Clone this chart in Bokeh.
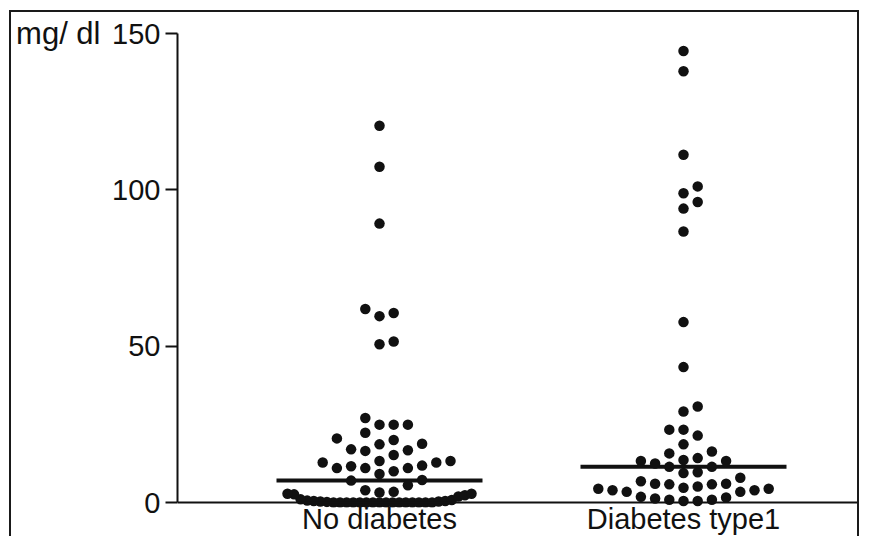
import numpy as np
from bokeh.plotting import figure
from bokeh.models import Range1d, FixedTicker, Span, LinearAxis, ColumnDataSource
from bokeh.embed import file_html
from bokeh.resources import INLINE

# ---------------- data ----------------
categories = ["No diabetes", "Diabetes type1"]
no_diabetes = [120.5, 107.4, 89.2, 61.9, 60.6, 59.6, 51.5, 50.6,
               27.0, 24.9, 24.9, 24.9, 22.3, 20.5, 20.0, 18.8, 18.6, 17.0,
               16.7, 16.5, 15.2, 13.3, 13.3, 12.8, 12.8, 11.8, 11.6, 11.0,
               11.0, 11.0, 10.0, 9.1, 7.2, 7.0,
               5.5, 3.9, 3.4, 3.2, 2.8, 2.8, 2.6, 2.3, 1.9, 1.0, 0.8, 0.6,
               0.5, 0.5, 0.3, 0.3, 0.2,
               0, 0, 0, 0, 0, 0, 0, 0, 0, 0, 0, 0, 0, 0, 0, 0]
diabetes_type1 = [144.4, 137.9, 111.2, 101.1, 98.9, 96.1, 94.0, 86.7, 57.7, 43.3,
                  30.7, 29.1, 23.3, 23.3, 21.4, 18.6, 16.3, 15.7, 14.2, 13.6,
                  13.3, 13.3, 12.5, 11.4, 11.4, 9.7, 9.4,
                  7.9, 6.8, 6.0, 6.0, 5.8, 5.8, 5.1, 4.7, 4.4, 4.4, 3.9, 3.9,
                  3.4, 3.4, 1.8, 1.6, 1.3, 0.9, 0.9, 0.5, 0.5]
y_ticks = [0, 50, 100, 150]
y_unit_label = "mg/ dl"

# ---------------- layout ----------------
W, H = 850, 526
MB_L, MB_R, MB_T, MB_B = 166, 0, 21, 31
X0, X1 = 0.33553, 2.58553
Y0, Y1 = -1.599, 150
px_per_x = (W - MB_L - MB_R) / (X1 - X0)

FONT = "Liberation Sans"
FS = "29px"
INK = "#111111"


def swarm(values, step, d, kmax, dense_half, dense_eps=3.0, dense_min=15, xtol=0.95):
    """Column-grid beeswarm (offsets in px), ascending placement."""
    v = np.sort(np.asarray(values, float))
    n = len(v)
    offs = np.zeros(n)
    placed = np.zeros(n, bool)
    i = 0
    while i < n:
        j = i
        while j + 1 < n and v[j + 1] - v[i] <= dense_eps:
            j += 1
        cnt = j - i + 1
        if cnt >= dense_min:
            pos = np.linspace(-dense_half, dense_half, cnt)
            order = np.argsort(np.abs(pos), kind="stable")
            offs[i:j + 1] = pos[order]
            placed[i:j + 1] = True
            i = j + 1
        else:
            i += 1
    cand = [0]
    for k in range(1, kmax + 1):
        cand += [k, -k]
    for idx in range(n):
        if placed[idx]:
            continue
        best, bestscore = 0.0, -1.0
        for c in cand:
            x = c * step
            m = placed & (np.abs(offs - x) < step * xtol)
            dv = np.abs(v[m] - v[idx]).min() if m.any() else np.inf
            if dv >= d:
                best = x
                break
            if dv > bestscore + 1e-9:
                bestscore, best = dv, x
        offs[idx] = best
        placed[idx] = True
    return v, offs


p = figure(width=W, height=H, output_backend="svg", toolbar_location=None,
           x_range=Range1d(X0, X1), y_range=Range1d(Y0, Y1),
           min_border_left=MB_L, min_border_right=MB_R,
           min_border_top=MB_T, min_border_bottom=MB_B)
p.styles = {"margin-left": "9px", "margin-top": "10px",
            "border-top": "2px solid #1a1a1a", "border-left": "2px solid #1a1a1a",
            "border-right": "2px solid #1a1a1a"}
p.outline_line_color = None
p.xgrid.visible = False
p.ygrid.visible = False
p.background_fill_color = "white"
p.border_fill_color = "white"

xs, ys = [], []
for gi, vals in enumerate([no_diabetes, diabetes_type1]):
    center = gi + 1
    v, offs = swarm(vals, step=14.2, d=4.1, kmax=7, dense_half=92)
    xs.extend(center + offs / px_per_x)
    ys.extend(v)
    med = float(np.median(vals))
    half = 103 / px_per_x
    p.segment(x0=[center - half], x1=[center + half], y0=[med], y1=[med],
              line_color=INK, line_width=4)

src = ColumnDataSource(dict(x=xs, y=ys))
p.scatter("x", "y", source=src, size=10.5, color=INK, line_color=None)

p.add_layout(Span(location=0, dimension="width", line_color=INK, line_width=2))

# y axis
ya = p.yaxis[0]
ya.ticker = FixedTicker(ticks=y_ticks)
ya.bounds = (0, 150)
ya.axis_line_width = 2
ya.axis_line_color = INK
ya.major_tick_line_width = 2
ya.major_tick_line_color = INK
ya.major_tick_out = 12
ya.major_tick_in = 0
ya.minor_tick_line_color = None
ya.major_label_standoff = 5
ya.major_label_text_font = FONT
ya.major_label_text_font_size = FS
ya.major_label_text_color = INK

# unit label at the top of the value axis, as a second (line-less) left axis
ua = LinearAxis(ticker=FixedTicker(ticks=[Y1]),
                major_label_overrides={Y1: y_unit_label})
ua.axis_line_color = None
ua.major_tick_line_color = None
ua.minor_tick_line_color = None
ua.major_tick_out = 0
ua.major_tick_in = 0
ua.major_label_standoff = 9
ua.major_label_text_font = FONT
ua.major_label_text_font_size = "31px"
ua.major_label_text_color = INK
p.add_layout(ua, "left")

# x axis (category labels)
xa = p.xaxis[0]
xa.ticker = FixedTicker(ticks=[1, 2])
xa.major_label_overrides = {1: categories[0], 2: categories[1]}
xa.axis_line_color = None
xa.major_tick_line_color = None
xa.minor_tick_line_color = None
xa.major_tick_out = 0
xa.major_tick_in = 0
xa.major_label_standoff = -5
xa.major_label_text_font = FONT
xa.major_label_text_font_size = FS
xa.major_label_text_color = INK

open("out.html", "w").write(file_html(p, INLINE))
